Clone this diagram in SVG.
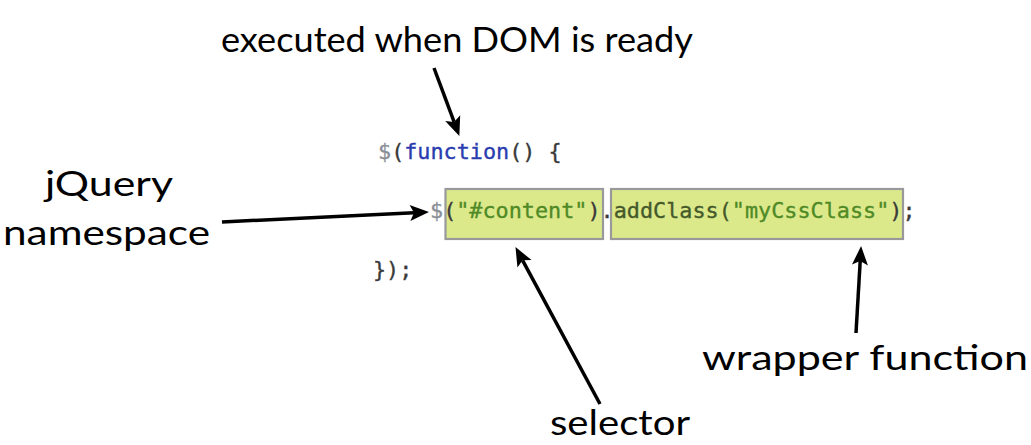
<svg xmlns="http://www.w3.org/2000/svg" width="1031" height="445" viewBox="0 0 1031 445">
  <style>
    .label { font-family: Lato, "Open Sans", "DejaVu Sans", sans-serif; font-size: 35px; fill: #000; }
    .code { font-family: "DejaVu Sans Mono", "Liberation Mono", monospace; font-size: 21.8px; stroke-width: 0.35px; }
    .punct { fill: #3a3a3a; stroke: #3a3a3a; }
    .dollar { fill: #8a8e96; stroke: #8a8e96; }
    .kw { fill: #2a3cb0; stroke: #2a3cb0; }
    .str { fill: #4f8a26; stroke: #4f8a26; }
    .meth { fill: #44592a; stroke: #44592a; }
    .hl { fill: #dce98b; stroke: #999; stroke-width: 2.2; }
    .arrow { stroke: #000; stroke-width: 3.5; fill: none; marker-end: url(#head); }
  </style>
  <defs>
    <marker id="head" markerUnits="userSpaceOnUse" markerWidth="24" markerHeight="20" refX="4" refY="0" orient="auto" overflow="visible">
      <path d="M0,-8 L19,0 L0,8 L4,0 Z" fill="#000"/>
    </marker>
  </defs>

  <rect width="1031" height="445" fill="#fff"/>

  <!-- code listing -->
  <g id="code">
    <rect class="hl" x="445.5" y="189" width="157.5" height="50"/>
    <rect class="hl" x="611" y="189" width="292" height="50"/>
    <text class="code" x="378" y="159"><tspan class="dollar">$</tspan><tspan class="punct">(</tspan><tspan class="kw">function</tspan><tspan class="punct">() {</tspan></text>
    <text class="code" x="430" y="218"><tspan class="dollar">$</tspan><tspan class="punct">(</tspan><tspan class="str">"#content"</tspan><tspan class="punct">).</tspan><tspan class="meth">addClass(</tspan><tspan class="str">"myCssClass"</tspan><tspan class="punct">);</tspan></text>
    <text class="code punct" x="373" y="277">});</text>
  </g>

  <!-- labels -->
  <g id="label-ready">
    <text class="label" x="221" y="52" textLength="472" lengthAdjust="spacingAndGlyphs">executed when DOM is ready</text>
  </g>
  <g id="label-namespace">
    <text class="label" x="45" y="196" textLength="128" lengthAdjust="spacingAndGlyphs">jQuery</text>
    <text class="label" x="3" y="245" textLength="207" lengthAdjust="spacingAndGlyphs">namespace</text>
  </g>
  <g id="label-selector">
    <text class="label" x="550" y="435" textLength="140" lengthAdjust="spacingAndGlyphs">selector</text>
  </g>
  <g id="label-wrapper">
    <text class="label" x="702" y="370" textLength="326" lengthAdjust="spacingAndGlyphs">wrapper function</text>
  </g>

  <!-- connectors -->
  <g id="connectors">
    <path class="arrow" d="M434,68 L454.1,121.9"/>
    <path class="arrow" d="M222,222 L414,212.7"/>
    <path class="arrow" d="M600,404 L522.6,260.3"/>
    <path class="arrow" d="M856,333 L860.2,261"/>
  </g>
</svg>
